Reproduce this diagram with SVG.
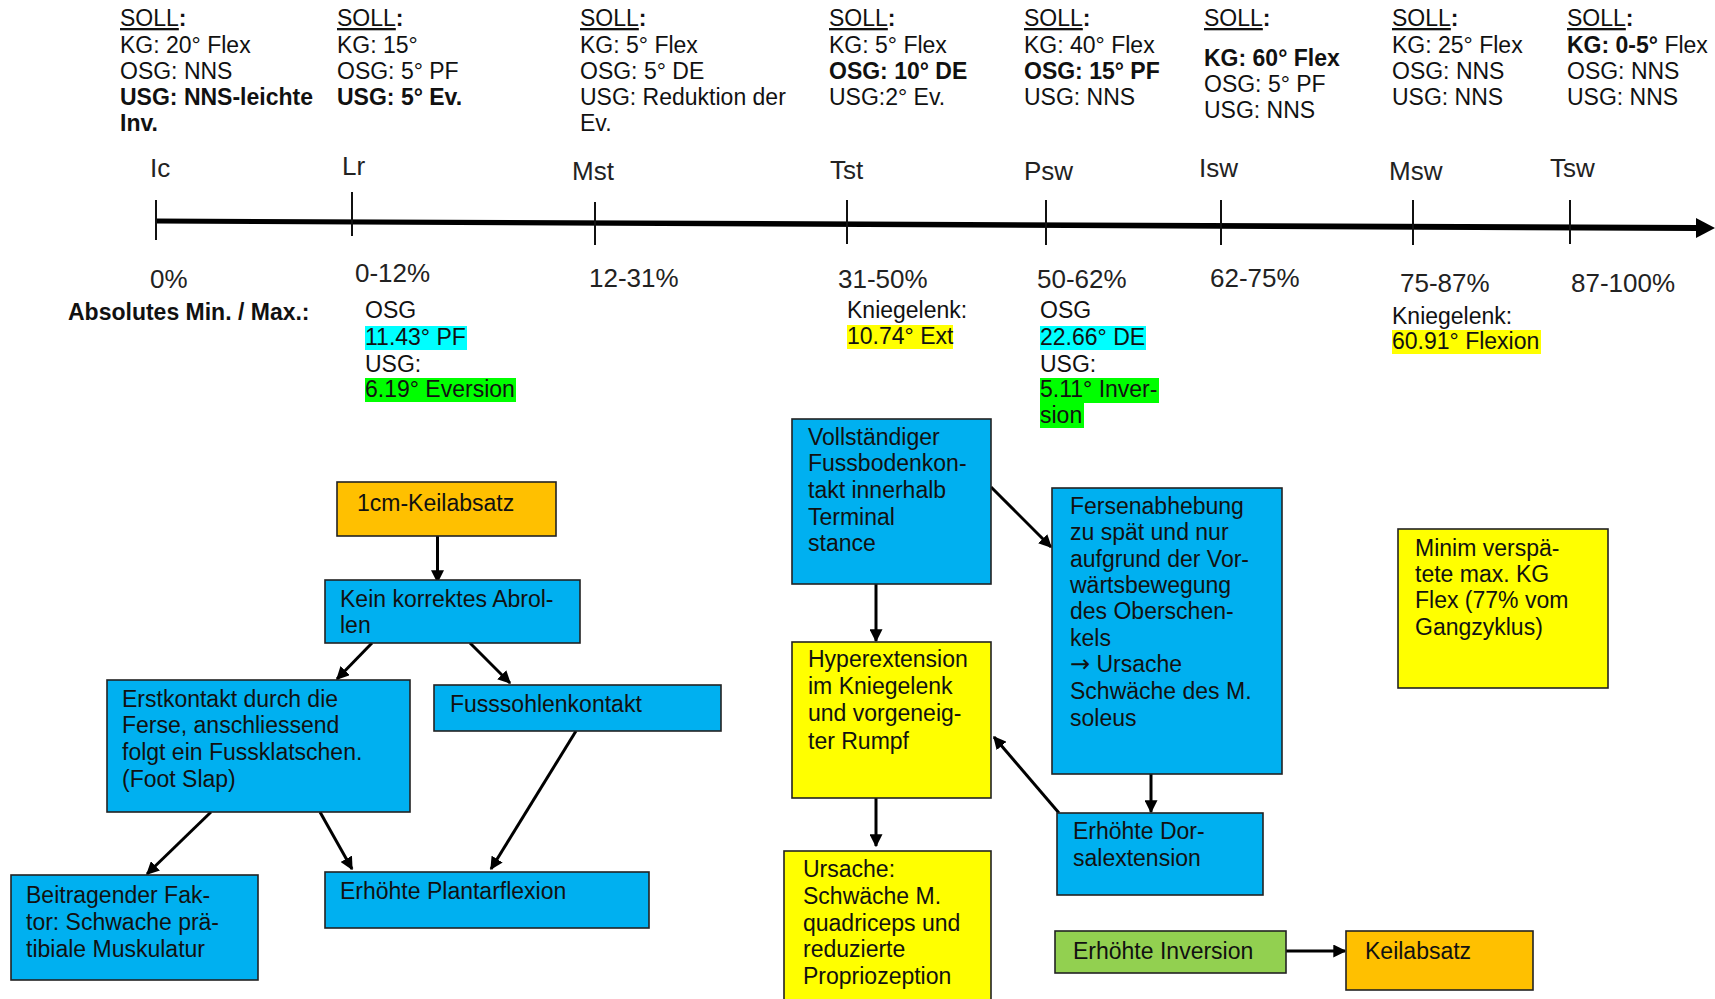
<svg xmlns="http://www.w3.org/2000/svg" width="1715" height="999" viewBox="0 0 1715 999">
<defs>
<style>
text{font-family:"Liberation Sans",Arial,sans-serif;font-size:23px;fill:#111}
.b{font-weight:bold}
.u{text-decoration:underline}
.ph{font-size:26px;fill:#222}
.arr{font-family:"DejaVu Sans",sans-serif;font-size:24px}
.box{stroke:#222;stroke-width:1.6}
.blue{fill:#00B0F0}
.org{fill:#FFC000}
.yel{fill:#FFFF00}
.grn{fill:#92D050}
.con{stroke:#000;stroke-width:3;fill:none;marker-end:url(#ah)}
.tick{stroke:#111;stroke-width:2}
</style>
<marker id="ah" viewBox="0 0 10 10" refX="9" refY="5" markerWidth="13" markerHeight="13" markerUnits="userSpaceOnUse" orient="auto">
<path d="M0,0 L10,5 L0,10 Z" fill="#000"/>
</marker>
</defs>
<rect width="1715" height="999" fill="#fff"/>

<g id="soll-ic">
<text x="120" y="26"><tspan class="u">SOLL</tspan><tspan class="b">:</tspan></text>
<text x="120" y="52.5">KG: 20° Flex</text>
<text x="120" y="79">OSG: NNS</text>
<text x="120" y="105" class="b">USG: NNS-leichte</text>
<text x="120" y="131" class="b">Inv.</text>
</g>
<g id="soll-lr">
<text x="337" y="26"><tspan class="u">SOLL</tspan><tspan class="b">:</tspan></text>
<text x="337" y="52.5">KG: 15°</text>
<text x="337" y="79">OSG: 5° PF</text>
<text x="337" y="105" class="b">USG: 5° Ev.</text>
</g>
<g id="soll-mst">
<text x="580" y="26"><tspan class="u">SOLL</tspan><tspan class="b">:</tspan></text>
<text x="580" y="52.5">KG: 5° Flex</text>
<text x="580" y="79">OSG: 5° DE</text>
<text x="580" y="105">USG: Reduktion der</text>
<text x="580" y="131">Ev.</text>
</g>
<g id="soll-tst">
<text x="829" y="26"><tspan class="u">SOLL</tspan><tspan class="b">:</tspan></text>
<text x="829" y="52.5">KG: 5° Flex</text>
<text x="829" y="79" class="b">OSG: 10° DE</text>
<text x="829" y="105">USG:2° Ev.</text>
</g>
<g id="soll-psw">
<text x="1024" y="26"><tspan class="u">SOLL</tspan><tspan class="b">:</tspan></text>
<text x="1024" y="52.5">KG: 40° Flex</text>
<text x="1024" y="79" class="b">OSG: 15° PF</text>
<text x="1024" y="105">USG: NNS</text>
</g>
<g id="soll-isw">
<text x="1204" y="26"><tspan class="u">SOLL</tspan><tspan class="b">:</tspan></text>
<text x="1204" y="66" class="b">KG: 60° Flex</text>
<text x="1204" y="92">OSG: 5° PF</text>
<text x="1204" y="118">USG: NNS</text>
</g>
<g id="soll-msw">
<text x="1392" y="26"><tspan class="u">SOLL</tspan><tspan class="b">:</tspan></text>
<text x="1392" y="52.5">KG: 25° Flex</text>
<text x="1392" y="79">OSG: NNS</text>
<text x="1392" y="105">USG: NNS</text>
</g>
<g id="soll-tsw">
<text x="1567" y="26"><tspan class="u">SOLL</tspan><tspan class="b">:</tspan></text>
<text x="1567" y="52.5"><tspan class="b">KG: 0-5°</tspan> Flex</text>
<text x="1567" y="79">OSG: NNS</text>
<text x="1567" y="105">USG: NNS</text>
</g>

<g id="phases">
<text class="ph" x="150" y="177">Ic</text>
<text class="ph" x="342" y="175">Lr</text>
<text class="ph" x="572" y="180">Mst</text>
<text class="ph" x="830" y="179">Tst</text>
<text class="ph" x="1024" y="180">Psw</text>
<text class="ph" x="1199" y="177">Isw</text>
<text class="ph" x="1389" y="180">Msw</text>
<text class="ph" x="1550" y="177">Tsw</text>
</g>

<g id="axis">
<polygon points="156,218.5 1698,225 1698,231 156,223.5" fill="#000"/>
<polygon points="1696,218 1715,228 1696,238" fill="#000"/>
<line class="tick" x1="156" y1="200" x2="156" y2="240"/>
<line class="tick" x1="352" y1="192" x2="352" y2="236"/>
<line class="tick" x1="595" y1="202" x2="595" y2="245"/>
<line class="tick" x1="847" y1="200" x2="847" y2="244"/>
<line class="tick" x1="1046" y1="200" x2="1046" y2="245"/>
<line class="tick" x1="1221" y1="200" x2="1221" y2="245"/>
<line class="tick" x1="1413" y1="200" x2="1413" y2="245"/>
<line class="tick" x1="1570" y1="200" x2="1570" y2="244"/>
</g>

<g id="percent">
<text class="ph" x="150" y="288">0%</text>
<text class="ph" x="355" y="282">0-12%</text>
<text class="ph" x="589" y="287">12-31%</text>
<text class="ph" x="838" y="288">31-50%</text>
<text class="ph" x="1037" y="288">50-62%</text>
<text class="ph" x="1210" y="287">62-75%</text>
<text class="ph" x="1400" y="292">75-87%</text>
<text class="ph" x="1571" y="292">87-100%</text>
</g>

<g id="absolutes">
<text x="68" y="320" class="b">Absolutes Min. / Max.:</text>
</g>
<g id="minmax-lr">
<text x="365" y="318">OSG</text>
<rect x="365" y="326" width="102" height="24" fill="#00FFFF"/>
<text x="365" y="345">11.43° PF</text>
<text x="365" y="372">USG:</text>
<rect x="365" y="378" width="151" height="24" fill="#00FF00"/>
<text x="365" y="397">6.19° Eversion</text>
</g>
<g id="minmax-tst">
<text x="847" y="318">Kniegelenk:</text>
<rect x="847" y="325" width="106" height="24" fill="#FFFF00"/>
<text x="847" y="344">10.74° Ext</text>
</g>
<g id="minmax-psw">
<text x="1040" y="318">OSG</text>
<rect x="1040" y="326" width="106" height="24" fill="#00FFFF"/>
<text x="1040" y="345">22.66° DE</text>
<text x="1040" y="372">USG:</text>
<rect x="1040" y="378" width="119" height="25" fill="#00FF00"/>
<rect x="1040" y="403" width="44" height="25" fill="#00FF00"/>
<text x="1040" y="397">5.11° Inver-</text>
<text x="1040" y="423">sion</text>
</g>
<g id="minmax-msw">
<text x="1392" y="324">Kniegelenk:</text>
<rect x="1392" y="330" width="149" height="24" fill="#FFFF00"/>
<text x="1392" y="349">60.91° Flexion</text>
</g>

<g id="connectors">
<line class="con" x1="437.5" y1="536" x2="437.5" y2="582"/>
<line class="con" x1="372" y1="643" x2="337" y2="679"/>
<line class="con" x1="470" y1="643" x2="510" y2="683"/>
<line class="con" x1="211" y1="812" x2="147" y2="874"/>
<line class="con" x1="320" y1="812" x2="352" y2="869"/>
<line class="con" x1="576" y1="731" x2="491" y2="869"/>
<line class="con" x1="876" y1="584" x2="876" y2="641"/>
<line class="con" x1="876" y1="798" x2="876" y2="846"/>
<line class="con" x1="991" y1="487" x2="1051" y2="547"/>
<line class="con" x1="1151" y1="774" x2="1151" y2="812"/>
<line class="con" x1="1059" y1="813" x2="994" y2="737"/>
<line class="con" x1="1286" y1="951" x2="1345" y2="951"/>
</g>

<g id="n-1cm">
<rect class="box org" x="337" y="482" width="219" height="54"/>
<text x="357" y="511">1cm-Keilabsatz</text>
</g>
<g id="n-kein">
<rect class="box blue" x="325" y="580" width="255" height="63"/>
<text x="340" y="607">Kein korrektes Abrol-</text>
<text x="340" y="633">len</text>
</g>
<g id="n-erstkontakt">
<rect class="box blue" x="107" y="680" width="303" height="132"/>
<text x="122" y="707">Erstkontakt durch die</text>
<text x="122" y="733">Ferse, anschliessend</text>
<text x="122" y="760">folgt ein Fussklatschen.</text>
<text x="122" y="787">(Foot Slap)</text>
</g>
<g id="n-fusssohle">
<rect class="box blue" x="434" y="685" width="287" height="46"/>
<text x="450" y="712">Fusssohlenkontakt</text>
</g>
<g id="n-beitragend">
<rect class="box blue" x="11" y="875" width="247" height="105"/>
<text x="26" y="903">Beitragender Fak-</text>
<text x="26" y="930">tor: Schwache prä-</text>
<text x="26" y="957">tibiale Muskulatur</text>
</g>
<g id="n-plantar">
<rect class="box blue" x="325" y="872" width="324" height="56"/>
<text x="340" y="899">Erhöhte Plantarflexion</text>
</g>
<g id="n-vollst">
<rect class="box blue" x="792" y="419" width="199" height="165"/>
<text x="808" y="445">Vollständiger</text>
<text x="808" y="471">Fussbodenkon-</text>
<text x="808" y="498">takt innerhalb</text>
<text x="808" y="525">Terminal</text>
<text x="808" y="551">stance</text>
</g>
<g id="n-hyper">
<rect class="box yel" x="792" y="642" width="199" height="156"/>
<text x="808" y="667">Hyperextension</text>
<text x="808" y="694">im Kniegelenk</text>
<text x="808" y="721">und vorgeneig-</text>
<text x="808" y="749">ter Rumpf</text>
</g>
<g id="n-ursache">
<rect class="box yel" x="784" y="851" width="207" height="160"/>
<text x="803" y="877">Ursache:</text>
<text x="803" y="904">Schwäche M.</text>
<text x="803" y="931">quadriceps und</text>
<text x="803" y="957">reduzierte</text>
<text x="803" y="984">Propriozeption</text>
</g>
<g id="n-fersen">
<rect class="box blue" x="1052" y="488" width="230" height="286"/>
<text x="1070" y="514">Fersenabhebung</text>
<text x="1070" y="540">zu spät und nur</text>
<text x="1070" y="567">aufgrund der Vor-</text>
<text x="1070" y="593">wärtsbewegung</text>
<text x="1070" y="619">des Oberschen-</text>
<text x="1070" y="646">kels</text>
<text x="1070" y="672"><tspan class="arr">→</tspan> Ursache</text>
<text x="1070" y="699">Schwäche des M.</text>
<text x="1070" y="726">soleus</text>
</g>
<g id="n-dorsal">
<rect class="box blue" x="1057" y="813" width="206" height="82"/>
<text x="1073" y="839">Erhöhte Dor-</text>
<text x="1073" y="866">salextension</text>
</g>
<g id="n-inversion">
<rect class="box grn" x="1055" y="931" width="231" height="42"/>
<text x="1073" y="959">Erhöhte Inversion</text>
</g>
<g id="n-keil">
<rect class="box org" x="1346" y="931" width="187" height="59"/>
<text x="1365" y="959">Keilabsatz</text>
</g>
<g id="n-minim">
<rect class="box yel" x="1398" y="529" width="210" height="159"/>
<text x="1415" y="556">Minim verspä-</text>
<text x="1415" y="582">tete max. KG</text>
<text x="1415" y="608">Flex (77% vom</text>
<text x="1415" y="635">Gangzyklus)</text>
</g>
</svg>
